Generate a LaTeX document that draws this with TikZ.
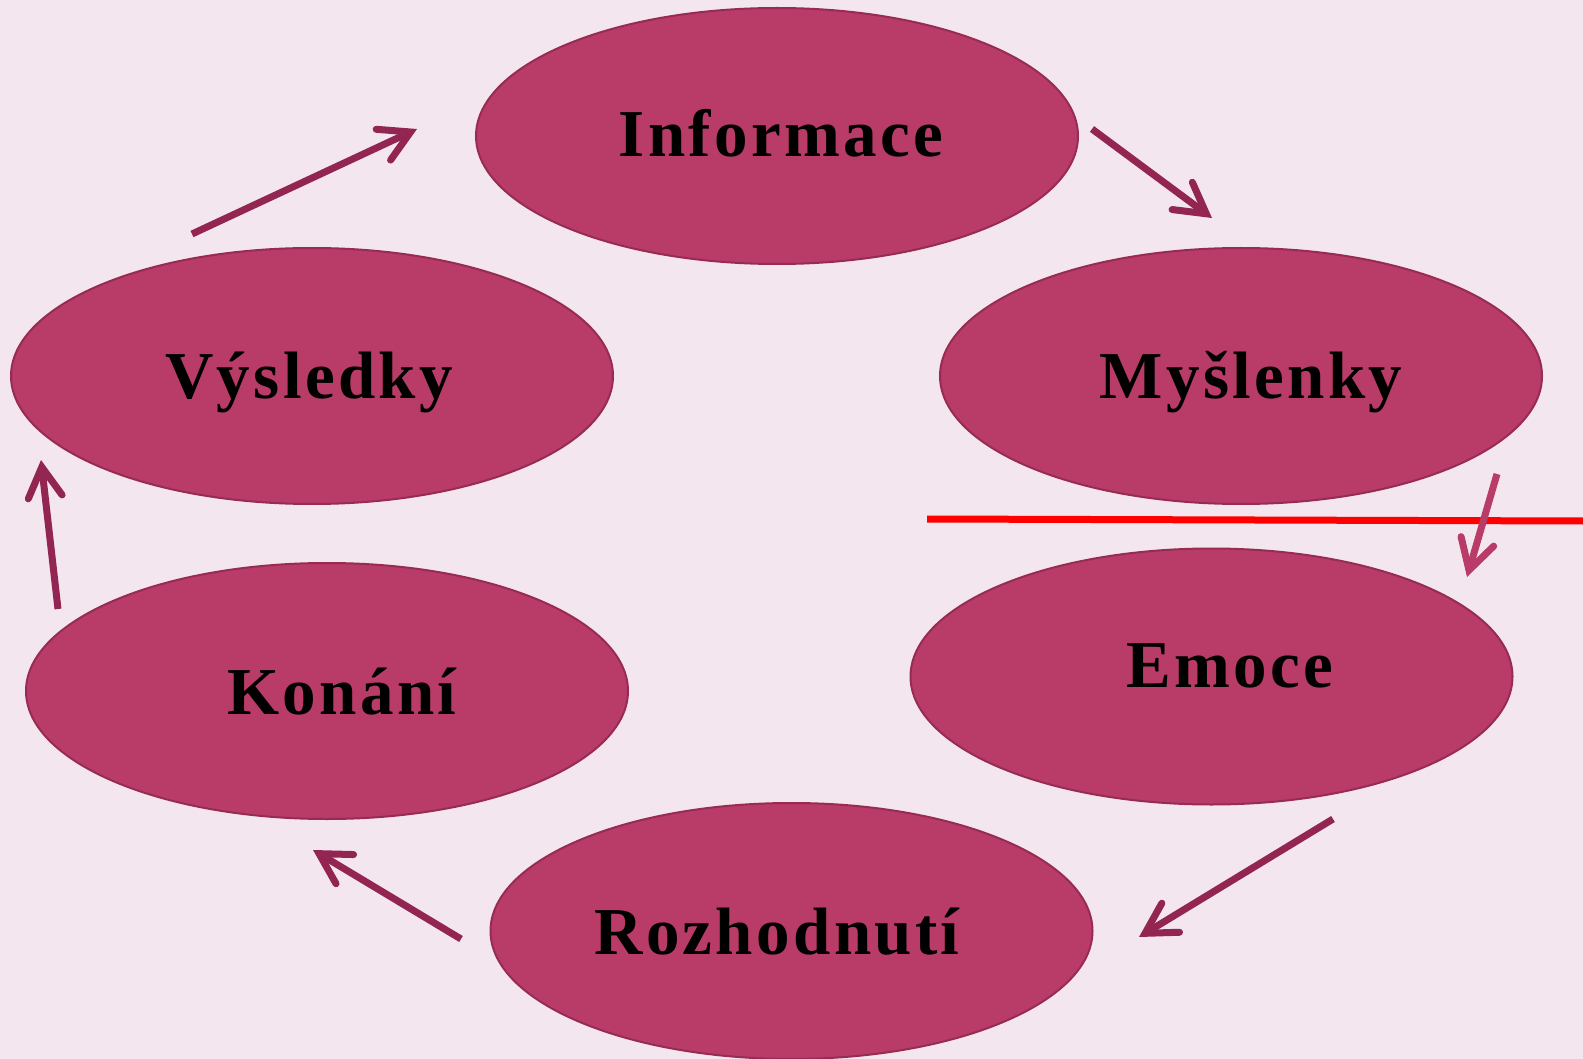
\documentclass[tikz,border=0pt]{standalone}
\usepackage{fontspec}
\setmainfont{Liberation Serif}[LetterSpace=5]
\usetikzlibrary{shapes.geometric,arrows.meta}
\definecolor{bgc}{HTML}{F4E6EE}
\definecolor{ellfill}{HTML}{B83C67}
\definecolor{elldraw}{HTML}{982B54}
\definecolor{arrdark}{HTML}{922551}
\definecolor{arrlight}{HTML}{B83C67}
\definecolor{redline}{HTML}{FF0000}
\tikzset{
  ell/.style={ellipse, draw=elldraw, fill=ellfill, line width=2pt, minimum width=602pt, minimum height=256pt, inner sep=0pt},
  lbl/.style={anchor=base, inner sep=0pt, font=\fontsize{67}{70}\selectfont\bfseries, text=black},
  flow/.style={draw=arrdark, line width=7pt, -{Straight Barb[length=30pt,width=34pt,line cap=round]}},
}
\begin{document}
\begin{tikzpicture}[x=1pt,y=-1pt]
\fill[bgc] (0,0) rectangle (1583,1059);
\useasboundingbox (0,0) rectangle (1583,1059);
% ellipses
\node[ell] (inf) at (777,136) {};
\node[ell] (mys) at (1241,376) {};
\node[ell] (vys) at (312,376) {};
\node[ell] (emo) at (1211.5,676.5) {};
\node[ell] (kon) at (327,691) {};
\node[ell] (roz) at (791.5,931) {};
% labels
\node[lbl] (tinf) at (781,157) {Informace};
\node[lbl] (tmys) at (1251,399) {Myšlenky};
\node[lbl] (tvys) at (309,399) {Výsledky};
\node[lbl] (temo) at (1230,687) {Emoce};
\node[lbl] (tkon) at (342,714) {Konání};
\node[lbl] (troz) at (777,954) {Rozhodnutí};
% red line
\coordinate (r1) at (927,519);
\coordinate (r2) at (1583,521);
\draw[redline, line width=7pt] (r1) -- (r2);
% arrow end points
\coordinate (a1s) at (1092,129); \coordinate (a1e) at (1212,218);
\coordinate (a2s) at (1497,474); \coordinate (a2e) at (1467,577);
\coordinate (a3s) at (1333,819); \coordinate (a3e) at (1139,937);
\coordinate (a4s) at (461,939);  \coordinate (a4e) at (313,850);
\coordinate (a5s) at (58,609);   \coordinate (a5e) at (41,460);
\coordinate (a6s) at (192,234);  \coordinate (a6e) at (417,129);
\draw[flow] (a1s) -- (a1e);
\draw[flow, draw=arrlight] (a2s) -- (a2e);
\draw[flow] (a3s) -- (a3e);
\draw[flow] (a4s) -- (a4e);
\draw[flow] (a5s) -- (a5e);
\draw[flow] (a6s) -- (a6e);
\end{tikzpicture}
\end{document}
